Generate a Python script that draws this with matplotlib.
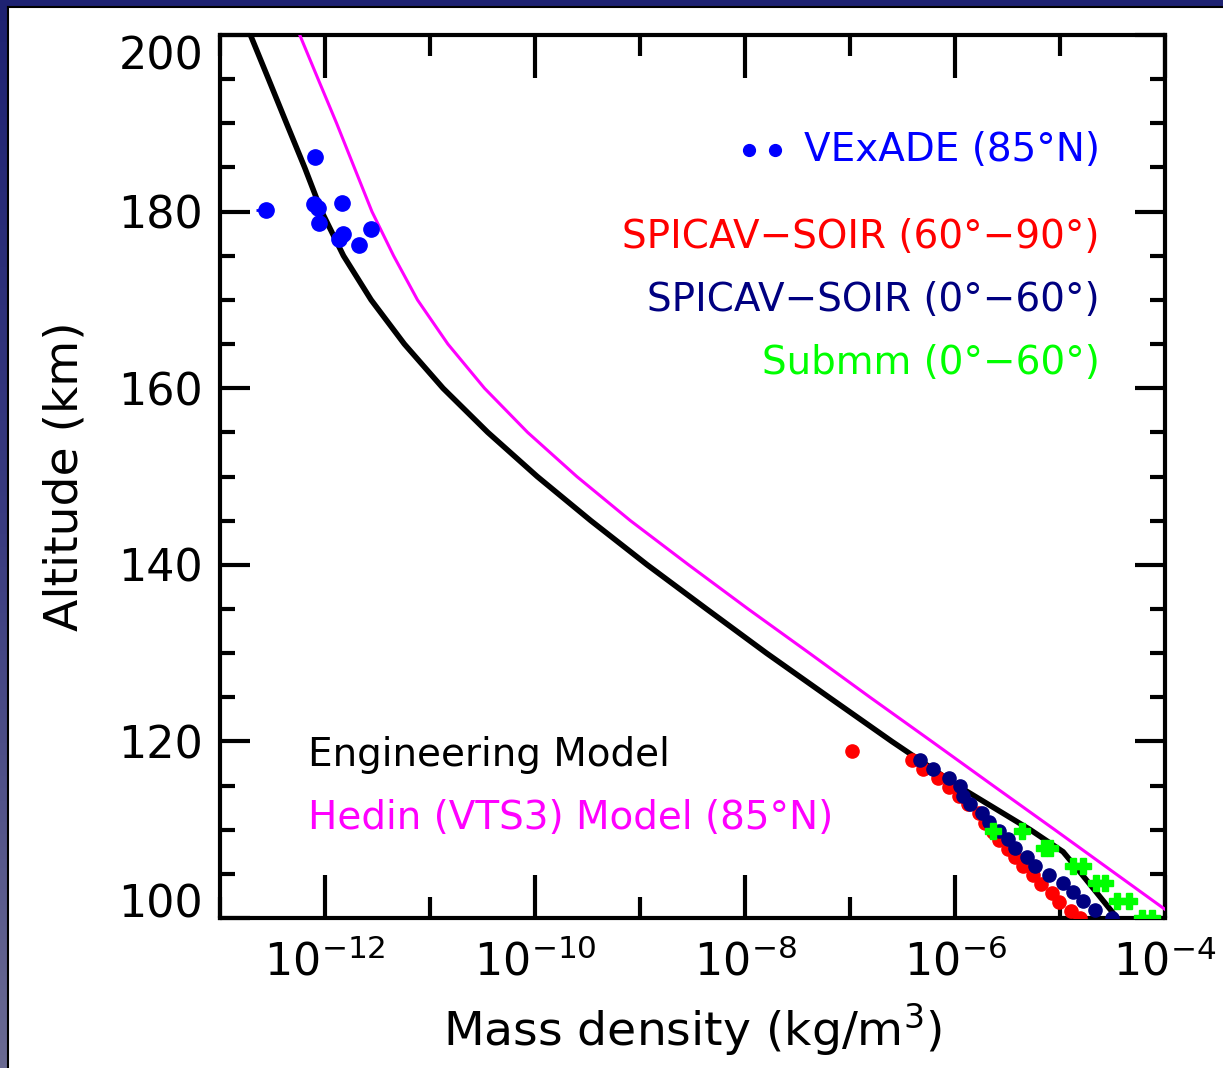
import numpy as np
import matplotlib
matplotlib.use('Agg')
import matplotlib.pyplot as plt
from matplotlib.ticker import FixedLocator, NullFormatter, LogFormatterSciNotation

plt.rcParams['font.family'] = 'DejaVu Sans'
plt.rcParams['mathtext.fontset'] = 'dejavusans'

# Engineering model (black)
eng_alt = [200, 195, 190, 185, 180, 175, 170, 165, 160, 155, 150, 145, 140, 135,
           130, 125, 120, 115, 110, 107.5, 105, 100]
eng_rho = [1.95e-13, 2.9e-13, 4.3e-13, 6.4e-13, 9.3e-13, 1.5e-12, 2.75e-12, 5.7e-12,
           1.33e-11, 3.55e-11, 1.05e-10, 3.4e-10, 1.17e-9, 4.3e-9,
           1.6e-8, 6.3e-8, 2.5e-7, 1.05e-6, 5.2e-6, 1.07e-5, 1.6e-5, 3.5e-5]

# Hedin (VTS3) model, 85N (magenta)
hed_alt = [200, 195, 190, 185, 180, 175, 170, 165, 160, 155, 150, 145, 140, 135,
           130, 125, 120, 115, 110, 105, 100]
hed_rho = [5.75e-13, 8.6e-13, 1.29e-12, 1.9e-12, 2.8e-12, 4.5e-12, 7.6e-12, 1.48e-11,
           3.3e-11, 8.5e-11, 2.5e-10, 8.1e-10, 2.9e-9, 1.07e-8,
           4.1e-8, 1.55e-7, 6.0e-7, 2.3e-6, 8.9e-6, 3.4e-5, 1.3e-4]

# VExADE (85N)
vex_alt = [180.2, 186.2, 180.9, 180.4, 181.0, 178.7, 177.5, 176.9, 176.2, 178.0]
vex_rho = [2.75e-13, 8.1e-13, 7.8e-13, 8.5e-13, 1.45e-12, 8.7e-13, 1.48e-12,
           1.35e-12, 2.1e-12, 2.75e-12]

# SPICAV-SOIR (60-90)
red_alt = [118.9, 117.9, 116.9, 115.9, 114.8, 113.8, 112.9, 111.9, 110.8, 109.7,
           108.8, 107.8, 106.9, 105.9, 104.9, 103.9, 102.8, 101.8, 100.8, 100.0]
red_rho = [1.05e-7, 3.9e-7, 5.0e-7, 6.9e-7, 8.7e-7, 1.1e-6, 1.32e-6, 1.7e-6,
           1.95e-6, 2.3e-6, 2.6e-6, 3.2e-6, 3.7e-6, 4.4e-6, 5.5e-6, 6.6e-6,
           8.3e-6, 9.8e-6, 1.26e-5, 1.55e-5]

# SPICAV-SOIR (0-60)
nav_alt = [117.9, 116.9, 115.9, 114.9, 113.8, 112.9, 111.9, 110.9, 109.9, 108.9,
           107.9, 106.9, 105.9, 104.9, 104.0, 102.9, 101.9, 100.9, 100.0]
nav_rho = [4.6e-7, 6.2e-7, 8.7e-7, 1.12e-6, 1.2e-6, 1.38e-6, 1.8e-6, 2.1e-6,
           2.6e-6, 3.2e-6, 3.7e-6, 4.8e-6, 5.8e-6, 7.9e-6, 1.07e-5, 1.32e-5,
           1.66e-5, 2.14e-5, 3.1e-5]

# Submm (0-60)
sub_alt = [109.9, 109.9, 107.9, 107.9, 105.9, 105.9, 104.0, 104.0, 101.9, 101.9,
           100.0, 100.0]
sub_rho = [2.3e-6, 4.3e-6, 7.1e-6, 8.1e-6, 1.32e-5, 1.66e-5, 2.2e-5, 2.7e-5,
           3.5e-5, 4.5e-5, 6.0e-5, 7.6e-5]

fig = plt.figure(figsize=(12.23, 10.68), dpi=100)

# slide frame on the left and top
grad = np.linspace(0, 1, 256).reshape(-1, 1)
fl = fig.add_axes([0, 0, 8 / 1223, 1])
fl.imshow(grad, aspect='auto', cmap=matplotlib.colors.LinearSegmentedColormap.from_list(
    'fr', ['#1e2272', '#3a3c80', '#6a6a92']), extent=[0, 1, 0, 1])
fl.axis('off')
ft = fig.add_axes([0, 1 - 7 / 1068, 1, 7 / 1068])
ft.set_facecolor('#1e2272')
ft.set_xticks([]); ft.set_yticks([])
for s in ft.spines.values():
    s.set_visible(False)
fig.add_artist(plt.Line2D([8 / 1223, 8 / 1223], [0, 1 - 7 / 1068], color='black', lw=1.5))
fig.add_artist(plt.Line2D([8 / 1223, 1], [1 - 7 / 1068, 1 - 7 / 1068], color='black', lw=1.5))

ax = fig.add_axes([220 / 1223, 1 - 918 / 1068, 945 / 1223, 883 / 1068])

ax.plot(eng_rho, eng_alt, color='black', lw=4, solid_capstyle='butt', zorder=3)
ax.plot(hed_rho, hed_alt, color='magenta', lw=2.2, zorder=3)
ax.errorbar(vex_rho[:1], vex_alt[:1], xerr=[[0.55e-13], [0]], fmt='none',
            ecolor='blue', elinewidth=2, capsize=0, zorder=4)
ax.plot(vex_rho, vex_alt, 'o', color='blue', ms=11, mec='blue', zorder=4)
ax.plot(red_rho, red_alt, 'o', color='red', ms=9.5, mec='red', zorder=4)
ax.plot(nav_rho, nav_alt, 'o', color='#000080', ms=9.5, mec='#000080', zorder=5)
ax.plot(sub_rho, sub_alt, 'P', color='#00ff00', ms=11, mec='#00ff00', zorder=6)

ax.set_xscale('log')
ax.set_xlim(1e-13, 1e-4)
ax.set_ylim(100, 200)

ax.xaxis.set_major_locator(FixedLocator([1e-12, 1e-10, 1e-8, 1e-6, 1e-4]))
ax.xaxis.set_minor_locator(FixedLocator([1e-13, 1e-11, 1e-9, 1e-7, 1e-5]))
ax.xaxis.set_major_formatter(LogFormatterSciNotation())
ax.xaxis.set_minor_formatter(NullFormatter())
ax.yaxis.set_major_locator(FixedLocator([100, 120, 140, 160, 180, 200]))
ax.yaxis.set_minor_locator(FixedLocator(np.arange(100, 201, 5)))

ax.tick_params(axis='x', which='major', direction='in', length=31, width=3,
               top=True, bottom=True, labelsize=32, pad=16)
ax.tick_params(axis='x', which='minor', direction='in', length=15, width=3,
               top=True, bottom=True)
ax.tick_params(axis='y', which='major', direction='in', length=21.5, width=3,
               left=True, right=True, labelsize=32, pad=12)
ax.tick_params(axis='y', which='minor', direction='in', length=10.8, width=3,
               left=True, right=True)
for s in ax.spines.values():
    s.set_linewidth(3)

fig.canvas.draw()
ylabels = ax.get_yticklabels()
ylabels[0].set_va('baseline')
ylabels[-1].set_va('top')

ax.set_xlabel('Mass density (kg/m$^3$)', fontsize=34, labelpad=12)
ax.set_ylabel('Altitude (km)', fontsize=34, labelpad=22)

fs = 28
ax.text(0.931, 0.870, 'VExADE (85\u00b0N)', color='blue', fontsize=fs,
        ha='right', va='center', transform=ax.transAxes)
ax.plot([0.560, 0.587], [0.870, 0.870], 'o', color='blue', ms=8.5,
        transform=ax.transAxes, clip_on=False)
ax.text(0.931, 0.771, 'SPICAV\u2212SOIR (60\u00b0\u221290\u00b0)', color='red',
        fontsize=fs, ha='right', va='center', transform=ax.transAxes)
ax.text(0.931, 0.700, 'SPICAV\u2212SOIR (0\u00b0\u221260\u00b0)', color='#000080',
        fontsize=fs, ha='right', va='center', transform=ax.transAxes)
ax.text(0.931, 0.629, 'Submm (0\u00b0\u221260\u00b0)', color='#00ff00',
        fontsize=fs, ha='right', va='center', transform=ax.transAxes)
ax.text(0.093, 0.185, 'Engineering Model', color='black', fontsize=fs,
        ha='left', va='center', transform=ax.transAxes)
ax.text(0.093, 0.113, 'Hedin (VTS3) Model (85\u00b0N)', color='magenta',
        fontsize=fs, ha='left', va='center', transform=ax.transAxes)

plt.savefig('out.png', dpi=100)
